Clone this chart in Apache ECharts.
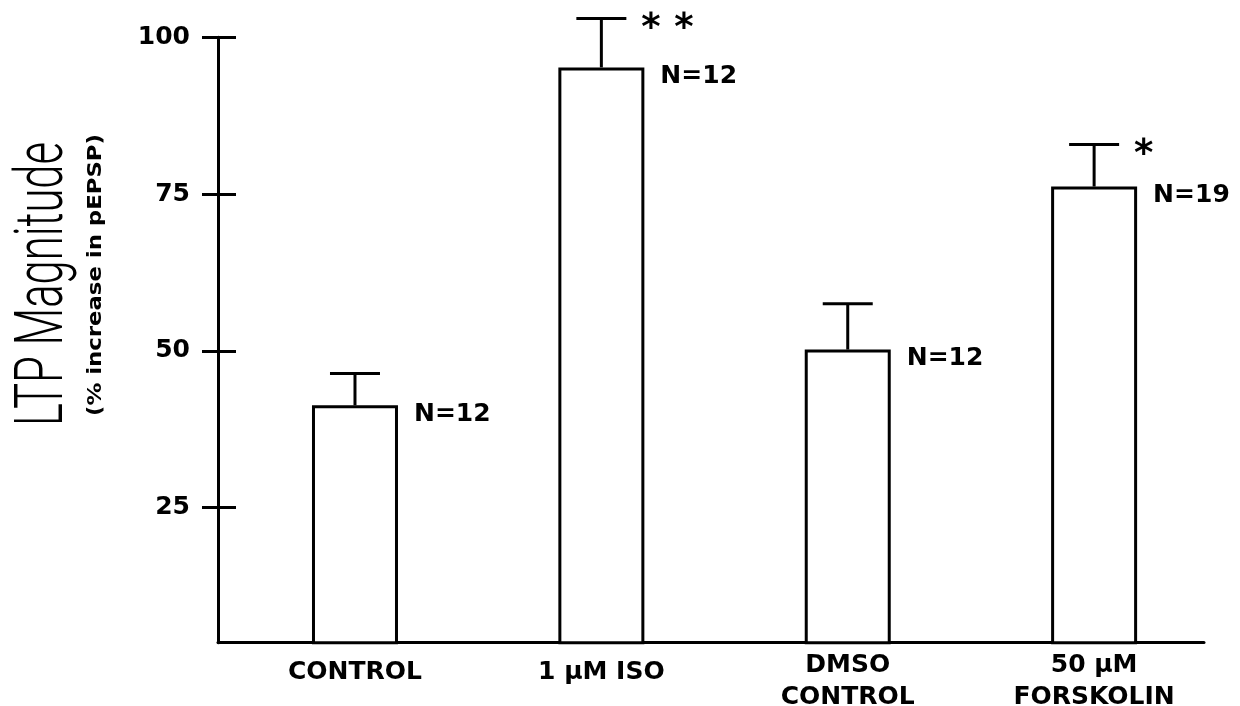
<!DOCTYPE html>
<html>
<head>
<meta charset="utf-8">
<style>
  html, body { margin: 0; padding: 0; background: #fff; }
  #chart { width: 1240px; height: 706px; }
</style>
<script src="https://cdn.jsdelivr.net/npm/echarts@6/dist/echarts.min.js"></script>
</head>
<body>
<div id="chart"></div>
<script>
// ---- data ----
const categories = ['CONTROL', '1 \u03bcM ISO', 'DMSO\nCONTROL', '50 \u03bcM\nFORSKOLIN'];
const meanValues = [41.3, 95.2, 50.2, 76.2];   // LTP magnitude (% increase in pEPSP)
const semValues  = [5.1, 7.8, 7.3, 6.7];       // error bar heights
const nValues    = [12, 12, 12, 19];
const sigMarks   = ['', '**', '', '*'];
const yTickValues = [25, 50, 75, 100];
const yTitle = 'LTP Magnitude';
const ySubTitle = '(% increase in pEPSP)';

const FONT = '"DejaVu Sans", "Liberation Sans", sans-serif';
const barData = meanValues.map((v, i) => [i, v]);
const errData = meanValues.map((v, i) => [i, v, semValues[i]]);

const chart = echarts.init(document.getElementById('chart'), null, { renderer: 'canvas' });

const labelStyle = { fontFamily: FONT, fontWeight: 'bold', fontSize: 25, color: '#000' };

chart.setOption({
  backgroundColor: '#fff',
  animation: false,
  grid: { left: 218, right: 36, top: 37.3, bottom: 63.3, containLabel: false, outerBoundsMode: 'none' },
  xAxis: {
    type: 'value',
    min: -0.556,
    max: 3.446,
    splitLine: { show: false },
    axisTick: { show: false },
    axisLine: { onZero: false, lineStyle: { color: '#000', width: 3 } },
    axisLabel: {
      customValues: categories.map((c, i) => i),
      margin: 7,
      formatter: function (v) {
        const c = categories[Math.round(v)] || '';
        if (c.indexOf('\n') < 0) return '{s|' + c + '}';
        return c.split('\n').map(t => '{d|' + t + '}').join('\n');
      },
      rich: {
        s: Object.assign({ lineHeight: 45 }, labelStyle),
        d: Object.assign({ lineHeight: 32 }, labelStyle)
      }
    }
  },
  yAxis: [{
    type: 'value',
    min: 3.45,
    max: 100,
    splitLine: { show: false },
    axisLine: { onZero: false, lineStyle: { color: '#000', width: 3 } },
    axisTick: { customValues: yTickValues, length: 16, lineStyle: { color: '#000', width: 3 } },
    axisLabel: {
      customValues: yTickValues,
      margin: 28,
      fontFamily: FONT, fontWeight: 'bold', fontSize: 25, color: '#000'
    }
  }, {
    type: 'value',
    position: 'left',
    min: 3.45,
    max: 100,
    splitLine: { show: false },
    axisLine: { show: false, onZero: false },
    axisLabel: { show: false },
    axisTick: { inside: true, customValues: yTickValues, length: 18, lineStyle: { color: '#000', width: 3 } }
  }],
  graphic: [{
    type: 'text',
    x: 45, y: 284,
    rotation: Math.PI / 2,
    scaleX: 0.65,
    style: {
      text: yTitle,
      font: '300 67px Roboto, "Liberation Sans", sans-serif',
      fill: '#000',
      align: 'center',
      verticalAlign: 'middle'
    }
  }, {
    type: 'text',
    x: 96, y: 275,
    rotation: Math.PI / 2,
    scaleX: 1.2,
    style: {
      text: ySubTitle,
      font: 'bold 19px ' + FONT,
      fill: '#000',
      align: 'center',
      verticalAlign: 'middle'
    }
  }],
  series: [{
    type: 'bar',
    data: barData,
    barWidth: 86,
    itemStyle: { color: '#fff', borderColor: '#000', borderWidth: 3 },
    label: {
      show: true,
      position: ['100%', 0],
      offset: [16, 9],
      align: 'left',
      verticalAlign: 'middle',
      formatter: p => 'N=' + nValues[p.dataIndex],
      fontFamily: FONT, fontWeight: 'bold', fontSize: 25, color: '#000'
    },
    z: 2
  }, {
    type: 'custom',
    data: errData,
    clip: false,
    z: 3,
    renderItem: function (params, api) {
      const x = api.value(0), m = api.value(1), s = api.value(2);
      const p0 = api.coord([x, m]);
      const p1 = api.coord([x, m + s]);
      const half = 25;
      const stroke = { stroke: '#000', lineWidth: 3 };
      const children = [
        { type: 'line', shape: { x1: p0[0], y1: p0[1], x2: p1[0], y2: p1[1] }, style: stroke },
        { type: 'line', shape: { x1: p1[0] - half, y1: p1[1], x2: p1[0] + half, y2: p1[1] }, style: stroke }
      ];
      const marks = (sigMarks[params.dataIndex] || '').split('');
      marks.forEach((ch, k) => {
        children.push({
          type: 'text',
          style: {
            text: ch,
            x: p1[0] + half + 15 + k * 33,
            y: p1[1] + 11,
            font: 'bold 37px ' + FONT,
            fill: '#000',
            align: 'left',
            verticalAlign: 'middle'
          }
        });
      });
      return { type: 'group', children: children };
    }
  }]
});
</script>
</body>
</html>
